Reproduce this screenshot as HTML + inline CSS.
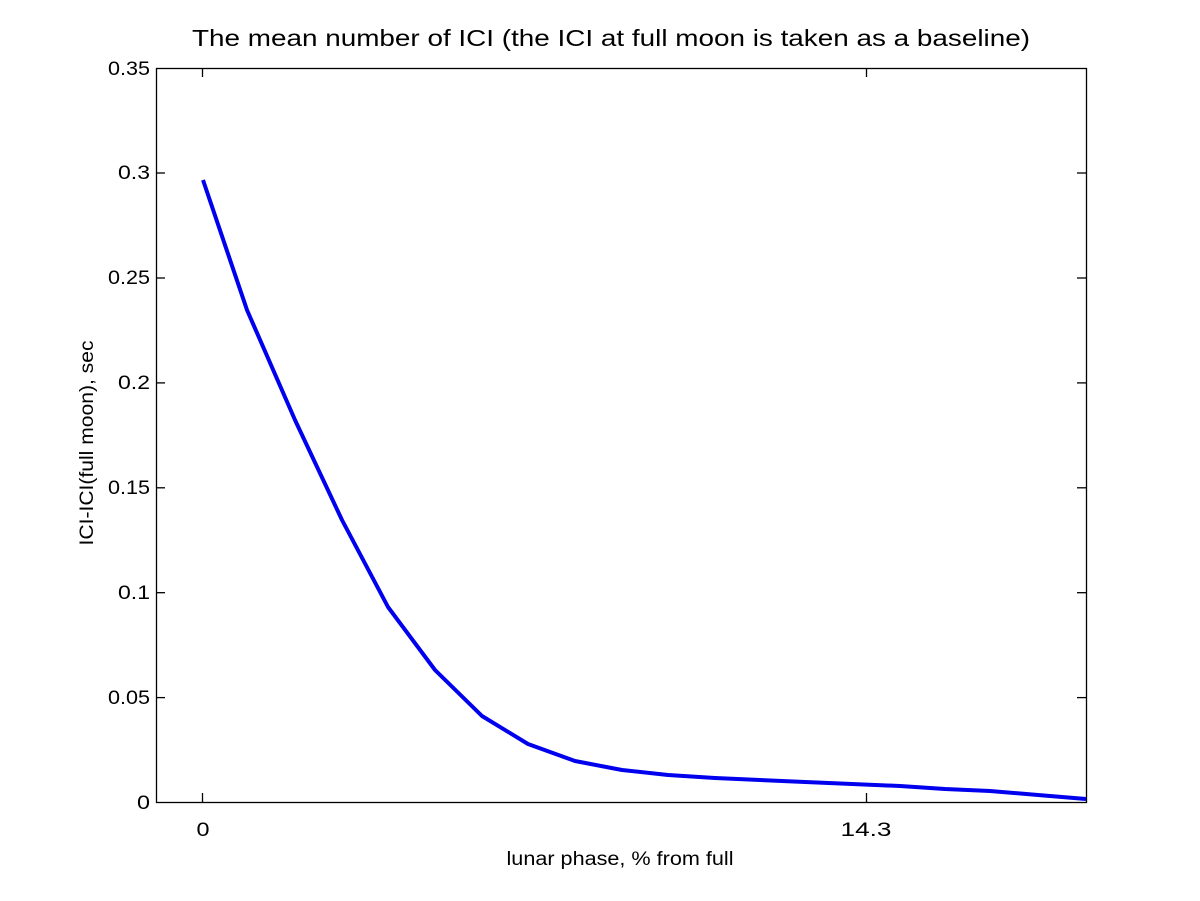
<!DOCTYPE html>
<html><head><style>body{margin:0;background:#fff}svg{display:block}</style></head>
<body>
<svg width="1200" height="901" xmlns="http://www.w3.org/2000/svg" font-family="Liberation Sans, sans-serif">
<rect width="1200" height="901" fill="#fff"/>
<rect x="156.5" y="68.5" width="930" height="734" fill="none" stroke="#000" stroke-width="1.3"/>
<g stroke="#000" stroke-width="1.3">
<line x1="202.5" y1="802" x2="202.5" y2="793"/><line x1="202.5" y1="68" x2="202.5" y2="77"/>
<line x1="866.5" y1="802" x2="866.5" y2="793"/><line x1="866.5" y1="68" x2="866.5" y2="77"/>
<line x1="156" y1="697.6" x2="165" y2="697.6"/><line x1="1086" y1="697.6" x2="1077" y2="697.6"/>
<line x1="156" y1="592.7" x2="165" y2="592.7"/><line x1="1086" y1="592.7" x2="1077" y2="592.7"/>
<line x1="156" y1="487.8" x2="165" y2="487.8"/><line x1="1086" y1="487.8" x2="1077" y2="487.8"/>
<line x1="156" y1="382.9" x2="165" y2="382.9"/><line x1="1086" y1="382.9" x2="1077" y2="382.9"/>
<line x1="156" y1="278" x2="165" y2="278"/><line x1="1086" y1="278" x2="1077" y2="278"/>
<line x1="156" y1="173" x2="165" y2="173"/><line x1="1086" y1="173" x2="1077" y2="173"/>
</g>
<g font-size="19" text-anchor="end" fill="#000">
<text x="150" y="809" textLength="13" lengthAdjust="spacingAndGlyphs">0</text>
<text x="150" y="704" textLength="42" lengthAdjust="spacingAndGlyphs">0.05</text>
<text x="150" y="599" textLength="32" lengthAdjust="spacingAndGlyphs">0.1</text>
<text x="150" y="494" textLength="42" lengthAdjust="spacingAndGlyphs">0.15</text>
<text x="150" y="389" textLength="32" lengthAdjust="spacingAndGlyphs">0.2</text>
<text x="150" y="284" textLength="42" lengthAdjust="spacingAndGlyphs">0.25</text>
<text x="150" y="179" textLength="32" lengthAdjust="spacingAndGlyphs">0.3</text>
<text x="150" y="75" textLength="42" lengthAdjust="spacingAndGlyphs">0.35</text>
</g>
<g font-size="19" text-anchor="middle" fill="#000">
<text x="203" y="836" textLength="13" lengthAdjust="spacingAndGlyphs">0</text>
<text x="866" y="836" textLength="51" lengthAdjust="spacingAndGlyphs">14.3</text>
<text x="620" y="865" textLength="227" lengthAdjust="spacingAndGlyphs">lunar phase, % from full</text>
<text x="611" y="46" font-size="23" textLength="838" lengthAdjust="spacingAndGlyphs">The mean number of ICI (the ICI at full moon is taken as a baseline)</text>
<text transform="translate(93,443) rotate(-90)" textLength="205" lengthAdjust="spacingAndGlyphs">ICI-ICI(full moon), sec</text>
</g>
<polyline fill="none" stroke="#0000ee" stroke-width="4" stroke-linejoin="round"
points="203,180 247,310 295,420 342,520 388,607 435,670 482,716 528,744 575,761 622,770 668,775 715,778 760,780 805,782 852,784 900,786 945,789 990,791 1038,795 1086,799"/>
</svg>
</body></html>
